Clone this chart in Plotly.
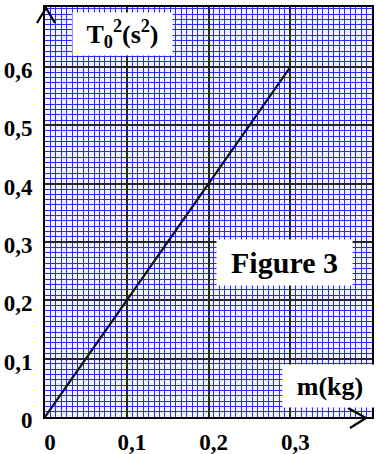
import plotly.graph_objects as go

# ---- data ----
m_kg = [0.0, 0.3]
T0_sq = [0.0, 0.6]
x_tickvals = [0, 0.1, 0.2, 0.3]
x_ticktext = ["0", "0,1", "0,2", "0,3"]
y_tickvals = [0, 0.1, 0.2, 0.3, 0.4, 0.5, 0.6]
y_ticktext = ["0", "0,1", "0,2", "0,3", "0,4", "0,5", "0,6"]
x_label = "<b>m(kg)</b>"
y_label = "<b>T<sub>0</sub><sup>2</sup>(s<sup>2</sup>)</b>"
fig_label = "<b>Figure 3</b>"

# ---- layout geometry (pixels) ----
W, H = 377, 454
L, R, T, B = 45, 5, 7, 37
pw = W - L - R
ph = H - T - B


def px(x):
    return (x - L) / pw


def py(y):
    return (H - B - y) / ph


FONT = "Liberation Serif, Times New Roman, serif"
MINOR_COL = "rgb(40,40,255)"
BG = "rgb(242,242,255)"

fig = go.Figure()
fig.add_trace(go.Scatter(x=m_kg, y=T0_sq, mode="lines",
                         line=dict(color="#101020", width=2.2),
                         hoverinfo="skip", showlegend=False))

axis_common = dict(
    showline=True, mirror=True, linecolor="black", linewidth=2,
    ticks="", showgrid=True, gridcolor="#262626", gridwidth=1.5,
    zeroline=False, automargin=False,
    tickfont=dict(family=FONT, size=23, color="black", weight="bold"),
)

fig.update_xaxes(range=[0, 0.4], tickmode="array", tickvals=x_tickvals,
                 ticktext=x_ticktext, ticklabelstandoff=3, ticklabelshift=5,
                 minor=dict(tick0=0, dtick=0.1 / 15, showgrid=True,
                            gridcolor=MINOR_COL, gridwidth=1.2),
                 **axis_common)
fig.update_yaxes(range=[0, 0.703], tickmode="array", tickvals=y_tickvals,
                 ticktext=y_ticktext, ticklabelstandoff=6, ticklabelshift=3,
                 minor=dict(tick0=0, dtick=0.1 / 11, showgrid=True,
                            gridcolor=MINOR_COL, gridwidth=1.2),
                 **axis_common)

annotations = [
    dict(text=y_label, x=px(122), y=py(34), width=99, height=42),
    dict(text=fig_label, x=px(284), y=py(262), width=135, height=45),
    dict(text=x_label, x=px(330), y=py(386), width=94, height=42),
]
sizes = [26, 30, 26]
for a, s in zip(annotations, sizes):
    fig.add_annotation(xref="paper", yref="paper", xanchor="center",
                       yanchor="middle", showarrow=False, bgcolor="white",
                       borderpad=0, font=dict(family=FONT, size=s, color="black"),
                       **a)


def path(points):
    return "M " + " L ".join(f"{px(x):.4f},{py(y):.4f}" for x, y in points)


fig.add_shape(type="path", xref="paper", yref="paper",
              path=path([(37, 23), (46, 8), (55, 23)]),
              line=dict(color="black", width=2.2))
fig.add_shape(type="path", xref="paper", yref="paper",
              path=path([(348, 408), (366, 418), (350, 428)]),
              line=dict(color="black", width=2.2))

fig.update_layout(width=W, height=H, margin=dict(l=L, r=R, t=T, b=B),
                  plot_bgcolor=BG, paper_bgcolor="white",
                  font=dict(family=FONT))

fig.write_html("out.html")
